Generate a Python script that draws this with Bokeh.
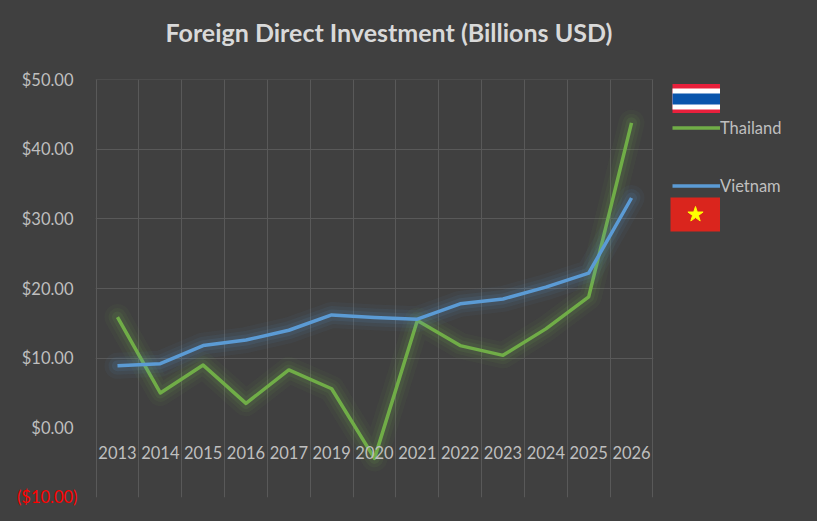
from bokeh.plotting import figure
from bokeh.layouts import row
from bokeh.models import FactorRange, Range1d, FixedTicker, Legend, LegendItem, Label, Title
from bokeh.embed import file_html
from bokeh.resources import INLINE

# data (billions USD)
years = ["2013", "2014", "2015", "2016", "2017", "2019", "2020",
         "2021", "2022", "2023", "2024", "2025", "2026"]
thailand = [15.9, 5.0, 9.0, 3.5, 8.3, 5.6, -4.4, 15.4, 11.8, 10.4, 14.2, 18.8, 43.8]
vietnam = [8.9, 9.2, 11.8, 12.6, 14.0, 16.2, 15.85, 15.6, 17.8, 18.5, 20.2, 22.2, 33.0]

y_ticks = [0, 10, 20, 30, 40, 50]
y_tick_labels = ["$0.00", "$10.00", "$20.00", "$30.00", "$40.00", "$50.00"]
y_min = -10
y_min_label = "($10.00)"

BG = "#404040"
GRID = "#595959"
TEXT = "#bfbfbf"
GREEN = "#70ad47"
BLUE = "#5b9bd5"
FONT = "Lato"
NAN = float("nan")

p = figure(x_range=FactorRange(factors=years, range_padding=0.002),
           y_range=Range1d(y_min - 0.02, y_ticks[-1] + 0.02),
           width=663, height=521, output_backend="svg", toolbar_location=None,
           title="Foreign Direct Investment (Billions USD)",
           min_border_left=95, min_border_right=10, min_border_top=79, min_border_bottom=24,
           styles={"background-color": BG})

p.background_fill_color = BG
p.border_fill_color = BG
p.outline_line_color = None

p.title.text_font = FONT
p.title.text_font_style = "bold"
p.title.text_font_size = "25px"
p.title.text_color = "#d9d9d9"
p.title.align = "left"
p.title.offset = 70
p.title.standoff = 30
p.title.vertical_align = "top"
# empty strip between the title and the plot area, lifts the title up
p.add_layout(Title(text=" ", text_font_size="12px", standoff=0), "above")

# grid lines sit on the category boundaries
p.xgrid.ticker = FixedTicker(ticks=list(range(len(years) + 1)))
p.ygrid.ticker = FixedTicker(ticks=y_ticks[1:])
p.xgrid.grid_line_color = GRID
p.ygrid.grid_line_color = GRID

for ax in (p.xaxis, p.yaxis):
    ax.axis_line_color = None
    ax.major_tick_line_color = None
    ax.minor_tick_line_color = None
    ax.major_tick_out = 0
    ax.major_label_text_color = TEXT
    ax.major_label_text_font = FONT
    ax.major_label_text_font_size = "16.5px"

p.yaxis.ticker = FixedTicker(ticks=y_ticks)
p.yaxis.major_label_overrides = dict(zip(y_ticks, y_tick_labels))
p.yaxis.major_label_standoff = 22

p.xaxis.fixed_location = 0
p.xaxis.major_label_standoff = 18

# the negative tick is shown in red, like the original's number format
p.add_layout(Label(x=-18, y=y_min, x_units="screen", text=y_min_label,
                   text_align="right", text_baseline="middle", text_color="#ff0000",
                   text_font=FONT, text_font_size="16.5px"), "below")


def glowing_line(fig, values, color):
    for w, a in [(26, 0.05), (18, 0.07), (11, 0.11)]:
        fig.line(years, values, line_color=color, line_width=w, line_alpha=a,
                 line_join="round", line_cap="round")
    return fig.line(years, values, line_color=color, line_width=3.5, line_join="round")


glowing_line(p, thailand, GREEN)
glowing_line(p, vietnam, BLUE)

# side panel holding the legend with the two flags (its frame lines up with the chart's)
side = figure(width=154, height=521, x_range=Range1d(0, 1), y_range=Range1d(0, 1),
              output_backend="svg", toolbar_location=None, min_border=0,
              x_axis_location=None, y_axis_location=None,
              styles={"background-color": BG})
side.background_fill_color = BG
side.border_fill_color = BG
side.outline_line_color = None
side.grid.visible = False


def legend_only(**kw):
    return side.line([0], [NAN], **kw)


th_red = legend_only(line_color="#e8203c", line_width=32)
th_white = legend_only(line_color="#ffffff", line_width=21)
th_blue = legend_only(line_color="#0a55ac", line_width=11)
th_key = legend_only(line_color=GREEN, line_width=3.5)
blank = legend_only(line_alpha=0)
vn_key = legend_only(line_color=BLUE, line_width=3.5)
vn_red = legend_only(line_color="#da251d", line_width=34)
vn_star = side.scatter([0], [NAN], marker="star", fill_color="#ffff00", line_color="#ffff00")

legend_style = dict(padding=0, margin=0, spacing=0, border_line_color=None,
                    background_fill_alpha=0, label_text_color=TEXT,
                    label_text_font=FONT, label_text_font_size="16.5px")

series_legend = Legend(items=[
    LegendItem(label=" ", renderers=[th_red, th_white, th_blue]),
    LegendItem(label="Thailand", renderers=[th_key]),
    LegendItem(label=" ", renderers=[blank]),
    LegendItem(label="Vietnam", renderers=[vn_key]),
], location=(9, 297), glyph_width=48, glyph_height=29, label_standoff=0, **legend_style)

flag_legend = Legend(items=[
    LegendItem(label=" ", renderers=[vn_red, vn_star]),
], location=(7, 263), glyph_width=50, glyph_height=40, label_standoff=1, **legend_style)

side.add_layout(series_legend)
side.add_layout(flag_legend)

layout = row(p, side, styles={"background-color": BG})
open("out.html", "w").write(file_html(layout, INLINE))
